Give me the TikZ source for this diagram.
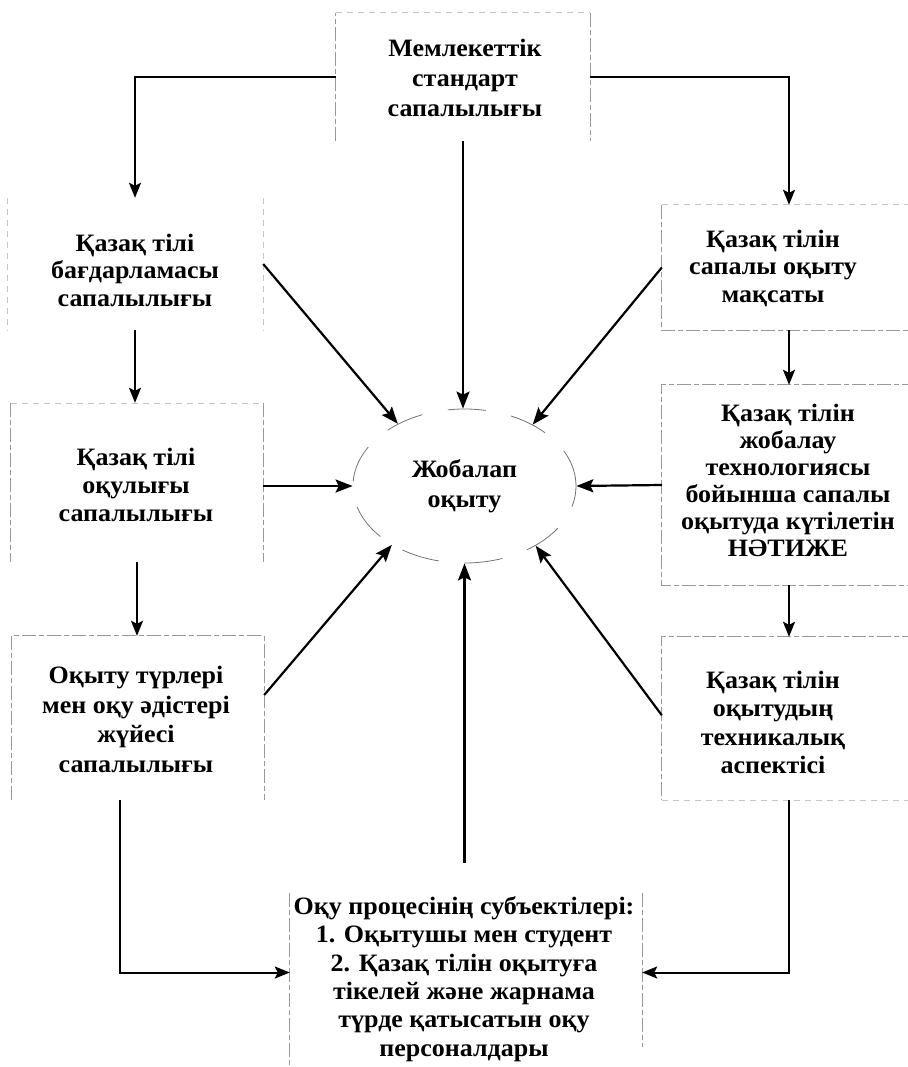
\documentclass[tikz,border=0pt]{standalone}
\usepackage{fontspec}
\setmainfont[FakeStretch=1.04]{Liberation Serif}
\usetikzlibrary{arrows.meta,calc,shapes.geometric}
\begin{document}
\begin{tikzpicture}[x=1pt,y=-1pt,
  txt/.style={font=\bfseries\fontsize{25}{#1}\selectfont, align=center, inner sep=0pt},
  txt/.default=28.5,
  boxshape/.style={rectangle, draw=none, inner sep=0pt},
  bord/.style={draw=black!40, line width=0.7pt, dash pattern=on 14pt off 3pt on 5pt off 3pt},
  faint/.style={draw=black!22, line width=0.6pt, dash pattern=on 6pt off 5pt},
  conn/.style={draw=black, line width=2pt, -{Stealth[length=15pt,width=12pt,inset=3pt]}},
  arr/.style={draw=black, line width=2.2pt, -{Stealth[length=17pt,width=13pt,inset=3pt]}},
  ell/.style={ellipse, draw=black!55, line width=0.8pt, dash pattern=on 38pt off 26pt, inner sep=0pt, minimum width=223pt, minimum height=154pt}
]
\useasboundingbox (0,0) rectangle (907,1067);

% box geometry
\node[boxshape, minimum width=254pt, minimum height=128pt] (T)  at (463,77) {};
\node[boxshape, minimum width=256pt, minimum height=132pt] (L1) at (135,264) {};
\node[boxshape, minimum width=252pt, minimum height=159pt] (L2) at (137,482.5) {};
\node[boxshape, minimum width=252pt, minimum height=164pt] (L3) at (138,718) {};
\node[boxshape, minimum width=254pt, minimum height=125pt] (R1) at (789,267.5) {};
\node[boxshape, minimum width=254pt, minimum height=200pt] (R2) at (789,485) {};
\node[boxshape, minimum width=254pt, minimum height=163pt] (R3) at (789,718.5) {};
\node[boxshape, minimum width=352pt, minimum height=189pt] (B)  at (466,972.5) {};

% texts
\node[txt=30]   (Tt)  at (465,78)    {Мемлекеттік\\стандарт\\сапалылығы};
\node[txt=27.5] (L1t) at (135,270)   {Қазақ тілі\\бағдарламасы\\сапалылығы};
\node[txt=28]   (L2t) at (136,485)   {Қазақ тілі\\оқулығы\\сапалылығы};
\node[txt=29.5] (L3t) at (136,719.5) {Оқыту түрлері\\мен оқу әдістері\\жүйесі\\сапалылығы};
\node[txt=27.5] (R1t) at (773,268)   {Қазақ тілін\\сапалы оқыту\\мақсаты};
\node[txt=27]   (R2t) at (788,480)   {Қазақ тілін\\жобалау\\технологиясы\\бойынша сапалы\\оқытуда күтілетін\\НӘТИЖЕ};
\node[txt=28.5] (R3t) at (773,722.5) {Қазақ тілін\\оқытудың\\техникалық\\аспектісі};
\node[txt=28.4] (Bt)  at (464,979)   {Оқу процесінің субъектілері:\\1. Оқытушы мен студент\\2. Қазақ тілін оқытуға\\тікелей және жарнама\\түрде қатысатын оқу\\персоналдары};
\node[ell, txt=30] (E) at (464.5,486) {Жобалап\\оқыту};

% box borders (partial, as in the scan)
\draw[bord] (T.south west) -- (T.north west);
\draw[faint] (T.north west) -- (T.north east);
\draw[bord] (T.north east) -- (T.south east);
\draw[faint] (L1.north west) -- (L1.south west);
\draw[faint] (L1.north east) -- (L1.south east);
\draw[faint] (L2.north west) -- (L2.north east);
\draw[bord] (L2.north west) -- (L2.south west);
\draw[bord] (L2.north east) -- (L2.south east);
\draw[bord] (L3.south west) -- (L3.north west) -- (L3.north east) -- (L3.south east);
\draw[faint] (R1.north west) -- (R1.north east);
\draw[bord] (R1.north west) -- (R1.south west) -- (R1.south east);
\draw[bord] (R2.north east) -- (R2.north west) -- (R2.south west) -- (R2.south east);
\draw[bord] (R3.north east) -- (R3.north west) -- (R3.south west);
\draw[faint] (R3.south west) -- (R3.south east);
\draw[bord] ([yshift=-15pt]B.north west) -- (B.south west);
\draw[bord] ([yshift=-15pt]B.north east) -- ([yshift=20pt]B.south east);

% connectors
\draw[conn] (T.west) -| (L1.north);
\draw[conn] (T.east) -| (R1.north);
\draw[arr] (T.south) -- (T.south |- E.north);
\draw[conn] (L1.south) -- (L1.south |- L2.north);
\draw[conn] (L2.south) -- (L2.south |- L3.north);
\draw[conn] (R1.south) -- (R2.north);
\draw[conn] (R2.south) -- (R3.north);

\draw[arr] (L1.east) -- (E.137);
\draw[arr] (L2.east |- E.west) -- (E.west);
\draw[arr] ($(L3.north east)!0.36!(L3.south east)$) -- (E.219);
\draw[arr] (R1.west) -- (E.42);
\draw[arr] (R2.west) -- (E.east);
\draw[arr] ($(R3.north west)!0.48!(R3.south west)$) -- (E.320);
\draw[arr, shorten <=15pt] (E.south |- B.north) -- (E.south);

\coordinate (l3out) at (120,800);
\draw[conn] (l3out) |- (B.west);
\draw[conn] (R3.south) |- (B.east);
\end{tikzpicture}
\end{document}
